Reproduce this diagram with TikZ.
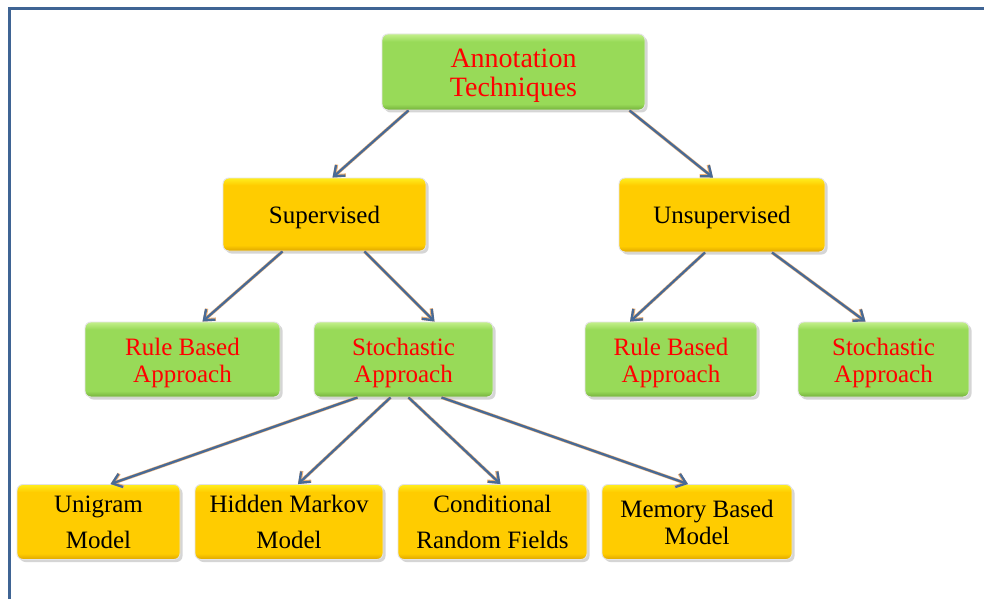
\documentclass[tikz,border=0pt]{standalone}
\usepackage{fontspec}
\newfontfamily\boxfont{Liberation Serif}
\usetikzlibrary{arrows.meta,shadows}

\definecolor{frameblue}{RGB}{63,100,148}
\definecolor{arrowblue}{RGB}{72,106,150}
\definecolor{arroworange}{RGB}{236,178,120}
\definecolor{gmain}{RGB}{152,218,88}
\definecolor{glight}{RGB}{196,240,140}
\definecolor{gdark}{RGB}{116,176,60}
\definecolor{ymain}{RGB}{255,204,0}
\definecolor{ylight}{RGB}{255,238,30}
\definecolor{ydark}{RGB}{222,166,0}

% box fills: darker strip at the bottom, lighter strip at the top
\pgfdeclareverticalshading{greenfill}{100bp}{color(0bp)=(gdark); color(25bp)=(gdark); color(29bp)=(gmain); color(70bp)=(gmain); color(75bp)=(glight); color(100bp)=(glight)}
\pgfdeclareverticalshading{yellowfill}{100bp}{color(0bp)=(ydark); color(25bp)=(ydark); color(29bp)=(ymain); color(70bp)=(ymain); color(75bp)=(ylight); color(100bp)=(ylight)}

\tikzset{
  x=1pt, y=-1pt,
  box/.style={rounded corners=6pt, draw=white!78!gray, line width=0.9pt, inner sep=0pt,
    drop shadow={shadow xshift=2.5pt, shadow yshift=-2.5pt, fill=black!32}},
  greenbox/.style={box, shade, shading=greenfill},
  yellowbox/.style={box, shade, shading=yellowfill},
  boxtext/.style={align=center, inner sep=0pt, text=black, font=\boxfont\fontsize{25}{27}\selectfont},
  redtext/.style={boxtext, text=red},
  link/.style={draw=arrowblue, line width=2.3pt, -{Straight Barb[length=9pt,width=14pt]},
    preaction={draw=arroworange, line width=3.3pt, -{Straight Barb[length=9pt,width=14pt]}}},
}

\begin{document}
\begin{tikzpicture}
\useasboundingbox (0,0) rectangle (984,599);
\fill[white] (0,0) rectangle (984,599);

% outer frame
\draw[frameblue, line width=3pt] (9.5,599) -- (9.5,8.5) -- (984,8.5);

% level 0
\node[greenbox, minimum width=263pt, minimum height=76pt] (root) at (513.5,72) {};
\node[redtext, font=\boxfont\fontsize{25}{26}\selectfont, scale=1.12, transform shape]
  (roottext) at ([yshift=-4pt]root.center) {Annotation\\Techniques};

% level 1
\node[yellowbox, minimum width=203pt, minimum height=73pt] (sup) at (324.5,214.5) {};
\node[boxtext] (suptext) at ([yshift=-2.5pt]sup.center) {Supervised};
\node[yellowbox, minimum width=206pt, minimum height=74pt] (unsup) at (722,215) {};
\node[boxtext] (unsuptext) at ([yshift=-2.5pt]unsup.center) {Unsupervised};

% level 2
\node[greenbox, minimum width=195pt, minimum height=75pt] (rbl) at (182.5,359.5) {};
\node[redtext] (rbltext) at ([yshift=-3pt]rbl.center) {Rule Based\\Approach};
\node[greenbox, minimum width=179pt, minimum height=75pt] (stl) at (403.5,359.5) {};
\node[redtext] (stltext) at ([yshift=-3pt]stl.center) {Stochastic\\Approach};
\node[greenbox, minimum width=172pt, minimum height=75pt] (rbr) at (671,359.5) {};
\node[redtext] (rbrtext) at ([yshift=-3pt]rbr.center) {Rule Based\\Approach};
\node[greenbox, minimum width=171pt, minimum height=75pt] (str) at (883.5,359.5) {};
\node[redtext] (strtext) at ([yshift=-3pt]str.center) {Stochastic\\Approach};

% level 3
\node[yellowbox, minimum width=163pt, minimum height=75pt] (uni) at (98.5,522) {};
\node[boxtext] (unitext) at (uni.center) {Unigram\\[9pt]Model};
\node[yellowbox, minimum width=188pt, minimum height=75pt] (hmm) at (289,522) {};
\node[boxtext] (hmmtext) at (hmm.center) {Hidden Markov\\[9pt]Model};
\node[yellowbox, minimum width=189pt, minimum height=75pt] (crf) at (492.5,522) {};
\node[boxtext] (crftext) at (crf.center) {Conditional\\[9pt]Random Fields};
\node[yellowbox, minimum width=190pt, minimum height=75pt] (mem) at (697,522) {};
\node[boxtext] (memtext) at (mem.center) {Memory Based\\Model};

% connectors
\draw[link] ([xshift=-105pt]root.south) -- ([xshift=8pt]sup.north);
\draw[link] ([xshift=116pt]root.south) -- ([xshift=-9pt]unsup.north);
\draw[link] ([xshift=-42pt]sup.south) -- ([xshift=20pt]rbl.north);
\draw[link] ([xshift=40pt]sup.south) -- ([xshift=31pt]stl.north);
\draw[link] ([xshift=-17pt]unsup.south) -- ([xshift=-41pt]rbr.north);
\draw[link] ([xshift=50pt]unsup.south) -- ([xshift=-18pt]str.north);
\draw[link] ([xshift=-46pt]stl.south) -- ([xshift=12pt]uni.north);
\draw[link] ([xshift=-13pt]stl.south) -- ([xshift=9pt]hmm.north);
\draw[link] ([xshift=5pt]stl.south) -- ([xshift=8pt]crf.north);
\draw[link] ([xshift=38pt]stl.south) -- ([xshift=-9pt]mem.north);
\end{tikzpicture}
\end{document}
